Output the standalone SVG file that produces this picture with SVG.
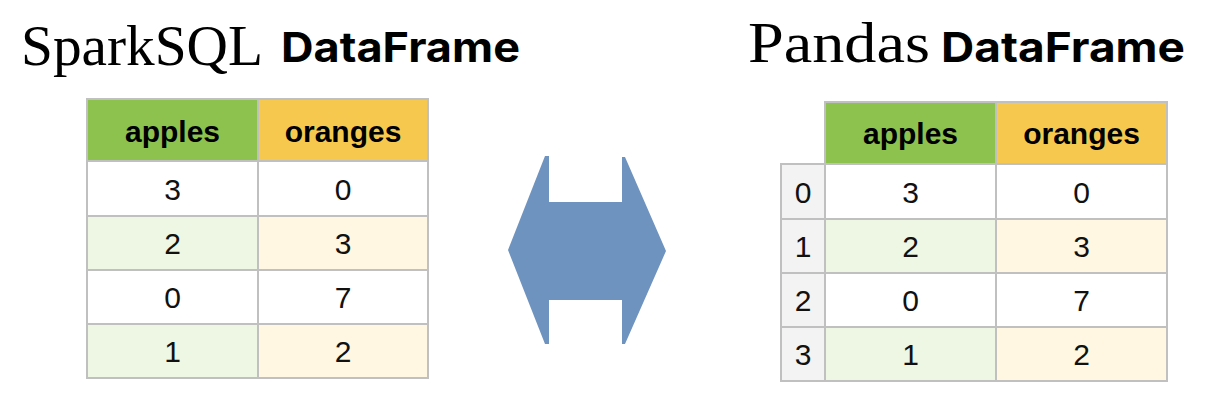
<svg xmlns="http://www.w3.org/2000/svg" width="1212" height="412" viewBox="0 0 1212 412">
<style>
.serif{font-family:"Liberation Serif","Times New Roman",serif;font-size:57px;fill:#000}
.title{font-family:Inter,"Liberation Sans",Arial,sans-serif;font-weight:700;font-size:41px;fill:#000}
.hd{font-family:"Liberation Sans",Arial,sans-serif;font-weight:700;font-size:30px;fill:#000;text-anchor:middle}
.num{font-family:"Liberation Sans",Arial,sans-serif;font-size:30px;fill:#111;text-anchor:middle}
.cell{stroke:#c0c0c0;stroke-width:2}
.gH{fill:#8cc24d}.yH{fill:#f6c94e}.w{fill:#ffffff}.gL{fill:#eef6e4}.yL{fill:#fff7e1}.ix{fill:#f3f3f3}
</style>
<rect width="1212" height="412" fill="#ffffff"/>

<g id="title-spark">
<text class="serif" x="21" y="65" textLength="242" lengthAdjust="spacingAndGlyphs">SparkSQL</text>
<text class="title" x="281" y="62" textLength="239" lengthAdjust="spacingAndGlyphs">DataFrame</text>
</g>

<g id="title-pandas">
<text class="serif" x="748" y="62" textLength="182" lengthAdjust="spacingAndGlyphs">Pandas</text>
<text class="title" x="941" y="62" textLength="244" lengthAdjust="spacingAndGlyphs">DataFrame</text>
</g>

<g id="spark-table">
<rect class="cell gH" x="87" y="99" width="171" height="62"/>
<rect class="cell yH" x="258" y="99" width="170" height="62"/>
<rect class="cell w" x="87" y="161" width="171" height="55"/>
<rect class="cell w" x="258" y="161" width="170" height="55"/>
<rect class="cell gL" x="87" y="216" width="171" height="54"/>
<rect class="cell yL" x="258" y="216" width="170" height="54"/>
<rect class="cell w" x="87" y="270" width="171" height="54"/>
<rect class="cell w" x="258" y="270" width="170" height="54"/>
<rect class="cell gL" x="87" y="324" width="171" height="54"/>
<rect class="cell yL" x="258" y="324" width="170" height="54"/>
<text class="hd" x="172.5" y="141.5">apples</text>
<text class="hd" x="343" y="141.5">oranges</text>
<text class="num" x="172.5" y="199.5">3</text>
<text class="num" x="343" y="199.5">0</text>
<text class="num" x="172.5" y="254">2</text>
<text class="num" x="343" y="254">3</text>
<text class="num" x="172.5" y="308">0</text>
<text class="num" x="343" y="308">7</text>
<text class="num" x="172.5" y="362">1</text>
<text class="num" x="343" y="362">2</text>
</g>

<g id="connectors">
<polygon fill="#6f93bf" points="508,250 545,156 549,156 549,202 622,202 622,157 625,157 666,251 625,344 622,344 622,300 549,300 549,344 545,344"/>
</g>

<g id="pandas-table">
<rect class="cell gH" x="825" y="102" width="171" height="62"/>
<rect class="cell yH" x="996" y="102" width="171" height="62"/>
<rect class="cell ix" x="781" y="164" width="44" height="55"/>
<rect class="cell w" x="825" y="164" width="171" height="55"/>
<rect class="cell w" x="996" y="164" width="171" height="55"/>
<rect class="cell ix" x="781" y="219" width="44" height="54"/>
<rect class="cell gL" x="825" y="219" width="171" height="54"/>
<rect class="cell yL" x="996" y="219" width="171" height="54"/>
<rect class="cell ix" x="781" y="273" width="44" height="54"/>
<rect class="cell w" x="825" y="273" width="171" height="54"/>
<rect class="cell w" x="996" y="273" width="171" height="54"/>
<rect class="cell ix" x="781" y="327" width="44" height="54"/>
<rect class="cell gL" x="825" y="327" width="171" height="54"/>
<rect class="cell yL" x="996" y="327" width="171" height="54"/>
<text class="hd" x="910.5" y="144">apples</text>
<text class="hd" x="1081.5" y="144">oranges</text>
<text class="num" x="803" y="202.5">0</text>
<text class="num" x="910.5" y="202.5">3</text>
<text class="num" x="1081.5" y="202.5">0</text>
<text class="num" x="803" y="257">1</text>
<text class="num" x="910.5" y="257">2</text>
<text class="num" x="1081.5" y="257">3</text>
<text class="num" x="803" y="311">2</text>
<text class="num" x="910.5" y="311">0</text>
<text class="num" x="1081.5" y="311">7</text>
<text class="num" x="803" y="365">3</text>
<text class="num" x="910.5" y="365">1</text>
<text class="num" x="1081.5" y="365">2</text>
</g>
</svg>
